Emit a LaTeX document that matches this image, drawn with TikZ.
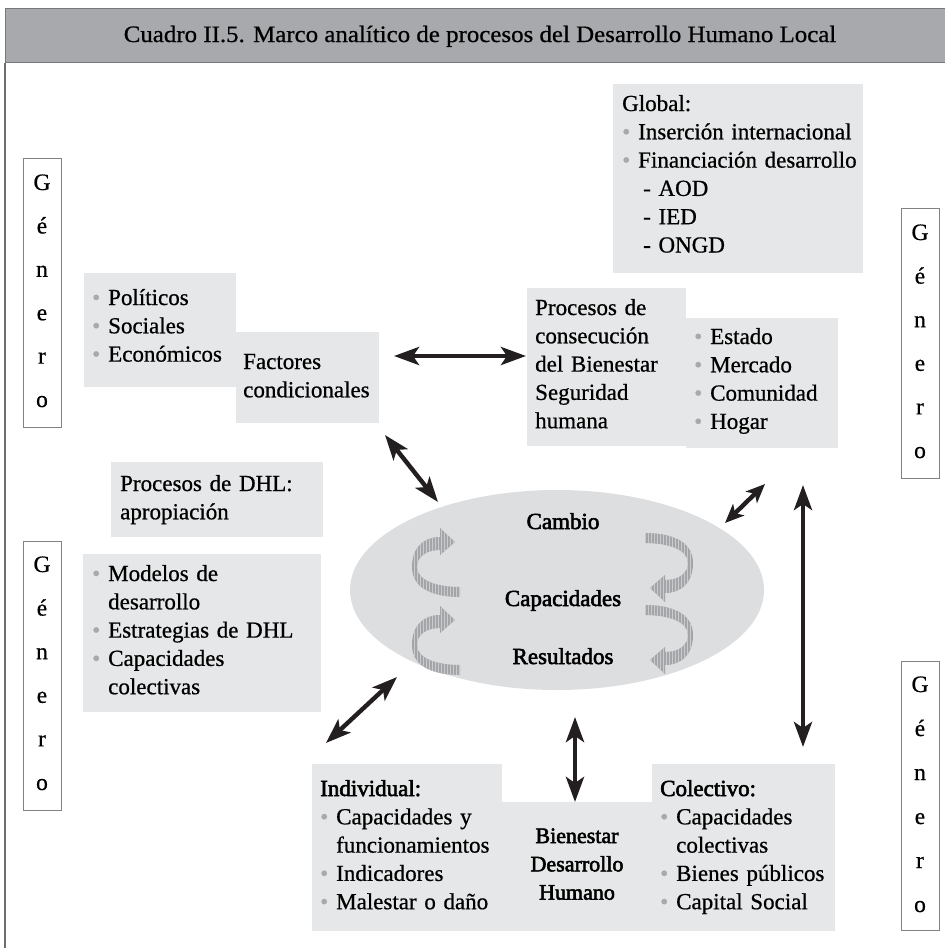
\documentclass[tikz,border=0pt]{standalone}
\usepackage{graphicx}
\usepackage{fontspec}
\setmainfont{Liberation Serif}
\newfontfamily\bodyfont{Liberation Serif}[FakeBold=0.7]
\newfontfamily\semibold{Liberation Serif}[FakeBold=2.4]
\usetikzlibrary{arrows.meta,shapes.geometric,patterns}

\definecolor{panel}{HTML}{E6E7E8}
\definecolor{coregray}{HTML}{DDDEE0}
\definecolor{headgray}{HTML}{A7A9AC}
\definecolor{headline}{HTML}{77787B}
\definecolor{boxline}{HTML}{808285}
\definecolor{frameline}{HTML}{6D6E71}
\definecolor{inkblack}{HTML}{231F20}
\definecolor{bulletgray}{HTML}{A7A9AC}
\definecolor{spinbase}{HTML}{A3A5A8}
\definecolor{spinline}{HTML}{CACBCD}

% gray list bullet and indent for wrapped list lines
\newcommand{\bul}{\makebox[16pt][l]{\textcolor{bulletgray}{\textbullet}}}
\newcommand{\hang}{\hspace*{16pt}}

\begin{document}
\begin{tikzpicture}[x=1pt,y=-1pt,
  panelbox/.style={fill=panel, draw=none, anchor=north west, inner sep=0},
  generobox/.style={fill=white, draw=boxline, line width=0.9pt, anchor=north west, inner sep=0, minimum width=38pt},
  gletter/.style={anchor=base, inner sep=0, font=\bodyfont\fontsize{23.5}{26}\selectfont},
  txt/.style={anchor=base west, inner sep=0, text width=260pt, align=left,
    font=\bodyfont\fontsize{23}{28.3}\selectfont},
  coreword/.style={anchor=base, inner sep=0, font=\semibold\fontsize{23}{24}\selectfont},
  link/.style={draw=inkblack, line width=4.4pt,
    {Stealth[length=25pt,width=18pt,inset=6pt]}-{Stealth[length=25pt,width=18pt,inset=6pt]}},
  shortlink/.style={draw=inkblack, line width=4.4pt,
    {Stealth[length=19pt,width=16pt,inset=5pt]}-{Stealth[length=19pt,width=16pt,inset=5pt]}},
  spin/.pic={
    \path[fill=spinbase] (24,25) -- (24,35) .. controls (0,35) and (-24,28) .. (-24,5)
      .. controls (-24,-15) and (-12,-25) .. (4,-25) -- (4,-34) -- (19,-20) -- (4,-7) -- (4,-12)
      .. controls (-10,-12) and (-19,-5) .. (-19,5) .. controls (-19,18) and (0,25) .. (24,25) -- cycle;
    \path[pattern=vertical lines, pattern color=spinline] (24,25) -- (24,35) .. controls (0,35) and (-24,28) .. (-24,5)
      .. controls (-24,-15) and (-12,-25) .. (4,-25) -- (4,-34) -- (19,-20) -- (4,-7) -- (4,-12)
      .. controls (-10,-12) and (-19,-5) .. (-19,5) .. controls (-19,18) and (0,25) .. (24,25) -- cycle;
  }
]
\useasboundingbox (0,0) rectangle (945,948);

% title bar and left frame edge
\node[fill=headgray, draw=headline, line width=1.2pt, anchor=north west, inner sep=0,
  minimum width=960pt, minimum height=54pt] (head) at (5,8) {};
\node[anchor=base, inner sep=0, font=\bodyfont\fontsize{23.5}{26}\selectfont] (title) at (480,42)
  {\scalebox{1.06}[1]{Cuadro II.5. Marco analítico de procesos del Desarrollo Humano Local}};
\coordinate (frameend) at (5,948);
\draw[frameline, line width=1.5pt] (head.south west) -- (frameend);

% Género boxes
\node[generobox, minimum height=269pt] (genL1) at (23,158) {};
\node[generobox, minimum height=269pt] (genL2) at (23,541) {};
\node[generobox, minimum height=270pt] (genR1) at (901,208) {};
\node[generobox, minimum height=269pt] (genR2) at (901,661) {};
\foreach \c [count=\i from 0] in {G,é,n,e,r,o} {
  \node[gletter] (gl1-\i) at (42,190+43.4*\i) {\c};
  \node[gletter] (gl2-\i) at (42,572+43.6*\i) {\c};
  \node[gletter] (gr1-\i) at (920,240+43.6*\i) {\c};
  \node[gletter] (gr2-\i) at (920,692+44*\i) {\c};
}

% gray panels
\node[panelbox, minimum width=250pt, minimum height=189pt] (global) at (613,84) {};
\node[panelbox, minimum width=152pt, minimum height=114pt] (factlist) at (84,273) {};
\node[panelbox, minimum width=143pt, minimum height=91pt] (factores) at (236,332) {};
\node[panelbox, minimum width=159pt, minimum height=158pt] (procesos) at (527,288) {};
\node[panelbox, minimum width=152pt, minimum height=130pt] (agentes) at (686,318) {};
\node[panelbox, minimum width=212pt, minimum height=75pt] (dhl) at (111,462) {};
\node[panelbox, minimum width=238pt, minimum height=158pt] (modelos) at (83,554) {};
\node[panelbox, minimum width=190pt, minimum height=167pt] (indiv) at (312,764) {};
\node[panelbox, minimum width=150pt, minimum height=129pt] (bienestar) at (502,802) {};
\node[panelbox, minimum width=183pt, minimum height=167pt] (colect) at (652,764) {};

% central ellipse with its cycle arrows
\node[ellipse, fill=coregray, inner sep=0, minimum width=414pt, minimum height=200pt] (core) at (557,590) {};
\pic at (436,562) {spin};
\pic at (436,640) {spin};
\pic[rotate=180] at (669,568) {spin};
\pic[rotate=180] at (669,640) {spin};
\node[coreword] (cambio) at (563,529) {Cambio};
\node[coreword] (capac) at (563,606) {Capacidades};
\node[coreword] (result) at (563,664) {Resultados};

% panel texts
\node[txt] (globaltxt) at (622,111) {Global:\\
  \bul Inserción internacional\\
  \bul Financiación desarrollo\\
  \hspace*{21pt}- AOD\\
  \hspace*{21pt}- IED\\
  \hspace*{21pt}- ONGD};
\node[txt] (factlisttxt) at (92,305) {\bul Políticos\\ \bul Sociales\\ \bul Económicos};
\node[txt] (factorestxt) at (243,369) {Factores\\ condicionales};
\node[txt] (procesostxt) at (535,315) {Procesos de\\ consecución\\ del Bienestar\\ Seguridad\\ humana};
\node[txt] (agentestxt) at (694,344) {\bul Estado\\ \bul Mercado\\ \bul Comunidad\\ \bul Hogar};
\node[txt] (dhltxt) at (120,491) {Procesos de DHL:\\ apropiación};
\node[txt] (modelostxt) at (92,581) {\bul Modelos de\\ \hang desarrollo\\ \bul Estrategias de DHL\\ \bul Capacidades\\ \hang colectivas};
\node[txt] (indivtxt) at (320,796) {{\semibold Individual:}\\ \bul Capacidades y\\ \hang funcionamientos\\ \bul Indicadores\\ \bul Malestar o daño};
\node[txt, anchor=base, text width=150pt, align=center, font=\semibold\fontsize{22}{28.3}\selectfont]
  (bienestartxt) at (577,843) {Bienestar\\ Desarrollo\\ Humano};
\node[txt] (colecttxt) at (660,796) {{\semibold Colectivo:}\\ \bul Capacidades\\ \hang colectivas\\ \bul Bienes públicos\\ \bul Capital Social};

% connector end points
\coordinate (fA) at (394,356);  \coordinate (pA) at (526,356);
\coordinate (fB) at (385,435);  \coordinate (cB) at (438,502);
\coordinate (cC) at (725,523);  \coordinate (pC) at (765,484);
\coordinate (pD) at (803,485);  \coordinate (kD) at (803,747);
\coordinate (cE) at (397,677);  \coordinate (iE) at (326,743);
\coordinate (cF) at (575,717);  \coordinate (bF) at (575,802);

\draw[link] (fA) -- (pA);
\draw[link] (fB) -- (cB);
\draw[shortlink] (cC) -- (pC);
\draw[link] (pD) -- (kD);
\draw[link] (cE) -- (iE);
\draw[link] (cF) -- (bF);
\end{tikzpicture}
\end{document}
